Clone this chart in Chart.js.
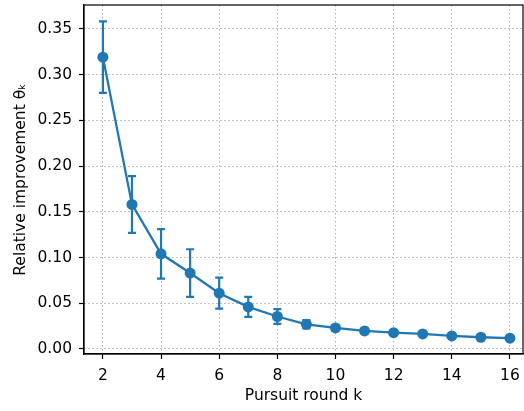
<!DOCTYPE html>
<html>
<head>
<meta charset="utf-8">
<script src="https://cdn.jsdelivr.net/npm/chart.js@4/dist/chart.umd.min.js"></script>
<style>
  body { margin: 0; background: #fff; }
  #wrap { width: 524px; height: 411px; }
</style>
</head>
<body>
<div id="wrap"><canvas id="graph"></canvas></div>
<script>
// données
const rounds = [2, 3, 4, 5, 6, 7, 8, 9, 10, 11, 12, 13, 14, 15, 16];
const theta = [0.319, 0.158, 0.104, 0.083, 0.061, 0.046, 0.0355, 0.027, 0.023, 0.0197, 0.0178, 0.0164, 0.0143, 0.0128, 0.0118];
const ecart = [0.039, 0.031, 0.027, 0.026, 0.017, 0.011, 0.008, 0.0045, 0.003, 0.0025, 0.002, 0.002, 0.0018, 0.0015, 0.0015];
const xTicks = [2, 4, 6, 8, 10, 12, 14, 16];
const yTicks = [0, 0.05, 0.10, 0.15, 0.20, 0.25, 0.30, 0.35];

const bleu = '#1f77b4';
const police = 'DejaVu Sans';

// barres d'erreur dessinées avec les échelles du graphique
const barresErreur = {
    id: 'barresErreur',
    beforeDatasetsDraw(chart) {
        const ctx = chart.ctx;
        const sx = chart.scales.x;
        const sy = chart.scales.y;
        ctx.save();
        ctx.strokeStyle = bleu;
        ctx.lineWidth = 2.2;
        rounds.forEach((r, i) => {
            const x = sx.getPixelForValue(r);
            const yHaut = sy.getPixelForValue(theta[i] + ecart[i]);
            const yBas = sy.getPixelForValue(theta[i] - ecart[i]);
            ctx.beginPath();
            ctx.moveTo(x, yHaut);
            ctx.lineTo(x, yBas);
            ctx.moveTo(x - 4, yHaut);
            ctx.lineTo(x + 4, yHaut);
            ctx.moveTo(x - 4, yBas);
            ctx.lineTo(x + 4, yBas);
            ctx.stroke();
        });
        ctx.restore();
    }
};

// cadre complet autour de la zone de tracé
const cadre = {
    id: 'cadre',
    afterDraw(chart) {
        const a = chart.chartArea;
        const ctx = chart.ctx;
        ctx.save();
        ctx.strokeStyle = '#000';
        ctx.lineWidth = 1.2;
        ctx.strokeRect(a.left, a.top, a.right - a.left, a.bottom - a.top);
        ctx.restore();
    }
};

const ctx = document.getElementById('graph').getContext('2d');
new Chart(ctx, {
    type: 'line',
    data: {
        datasets: [{
            data: rounds.map((r, i) => ({ x: r, y: theta[i] })),
            borderColor: bleu,
            backgroundColor: bleu,
            borderWidth: 2.3,
            pointRadius: 5.5,
            pointHoverRadius: 5.5,
            pointBorderWidth: 0,
            tension: 0,
            clip: 8
        }]
    },
    options: {
        responsive: true,
        maintainAspectRatio: false,
        animation: false,
        layout: { autoPadding: false, padding: { top: 5, right: 1, left: 0, bottom: 0 } },
        plugins: {
            legend: { display: false },
            tooltip: { enabled: false }
        },
        scales: {
            x: {
                type: 'linear',
                min: 1.35,
                max: 16.45,
                afterBuildTicks: scale => { scale.ticks = xTicks.map(v => ({ value: v })); },
                afterFit: scale => {
                    scale.height = 57;
                    scale.paddingLeft = 0;
                    scale.paddingRight = 0;
                },
                grid: {
                    color: '#b0b0b0',
                    lineWidth: 1,
                    tickLength: 5,
                    tickColor: '#000',
                    tickWidth: 1.2
                },
                border: { display: true, color: '#000', width: 1.2, dash: [1.5, 2.5] },
                ticks: {
                    color: '#000',
                    padding: 8,
                    maxRotation: 0,
                    font: { family: police, size: 15.5 },
                    callback: v => String(v)
                },
                title: {
                    display: true,
                    text: 'Pursuit round k',
                    color: '#000',
                    font: { family: police, size: 15.5 },
                    padding: { top: 0, bottom: 6 }
                }
            },
            y: {
                min: -0.0055,
                max: 0.376,
                afterBuildTicks: scale => { scale.ticks = yTicks.map(v => ({ value: v })); },
                afterFit: scale => {
                    scale.width = 84;
                    scale.paddingTop = 0;
                    scale.paddingBottom = 0;
                },
                grid: {
                    color: '#b0b0b0',
                    lineWidth: 1,
                    tickLength: 5,
                    tickColor: '#000',
                    tickWidth: 1.2
                },
                border: { display: true, color: '#000', width: 1.2, dash: [1.5, 2.5] },
                ticks: {
                    color: '#000',
                    padding: 7,
                    font: { family: police, size: 15.5 },
                    callback: v => v.toFixed(2)
                },
                title: {
                    display: true,
                    text: 'Relative improvement θₖ',
                    color: '#000',
                    font: { family: police, size: 15.5 },
                    padding: { top: 12, bottom: 0 }
                }
            }
        }
    },
    plugins: [barresErreur, cadre]
});
</script>
</body>
</html>
